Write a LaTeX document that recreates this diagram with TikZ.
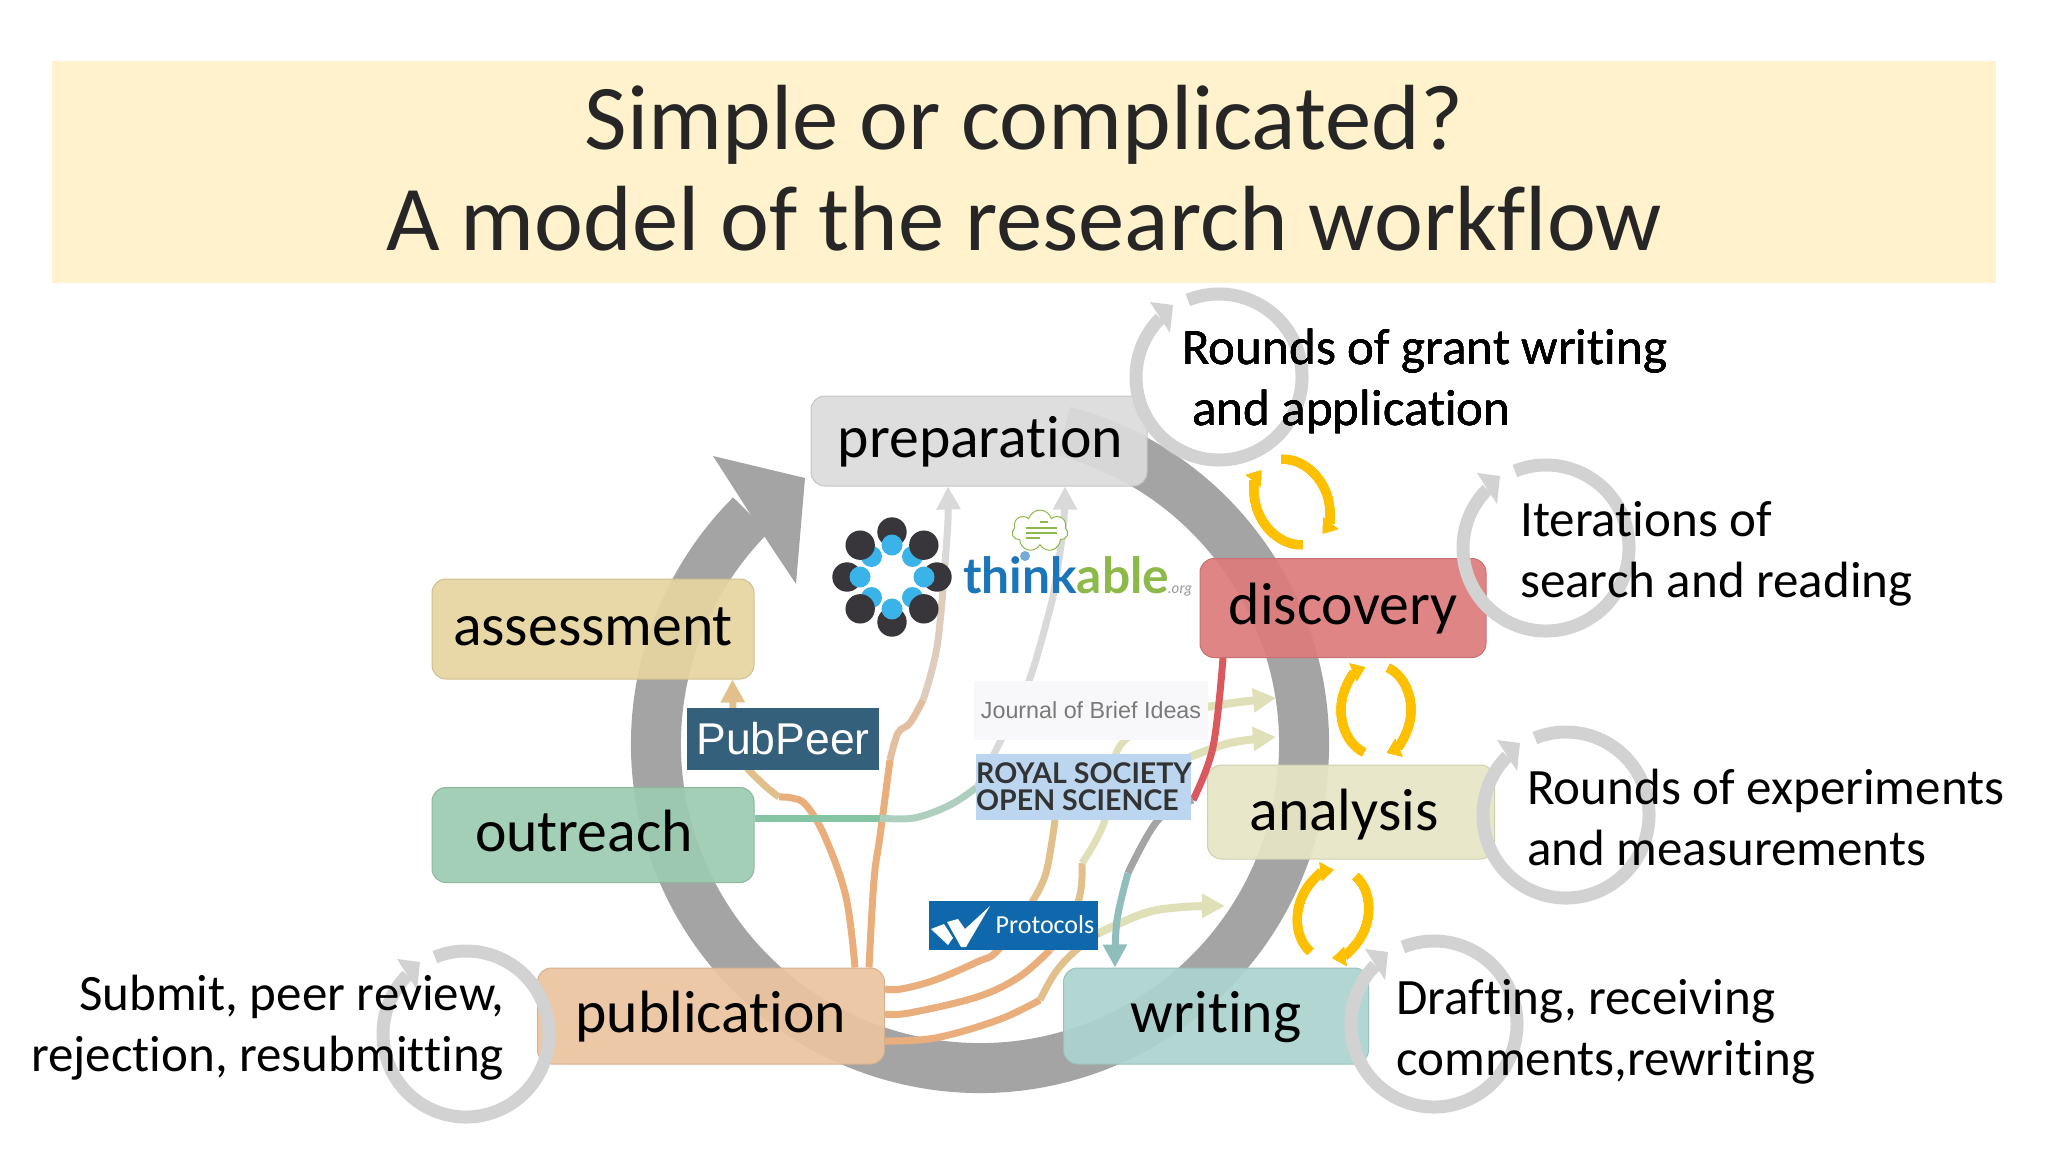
\documentclass[tikz,border=0pt]{standalone}
\usepackage{fontspec}
\setmainfont[Ligatures=NoCommon]{Carlito}
\newfontfamily\arialfont{Liberation Sans}
\newfontfamily\logofont{Lato}
\usetikzlibrary{arrows.meta,shapes.symbols}
\definecolor{titlebar}{HTML}{FFF2CC}
\definecolor{ringgray}{HTML}{A5A4A5}
\definecolor{loopgray}{HTML}{D2D2D2}
\definecolor{loopyellow}{HTML}{FFC000}
\definecolor{linkorange}{HTML}{E9AE7B}
\definecolor{linktan}{HTML}{E2C08C}
\definecolor{linkolive}{HTML}{DFDFB8}
\definecolor{linkgray}{HTML}{D9D9D9}
\definecolor{linkred}{HTML}{D9595F}
\definecolor{linkteal}{HTML}{8FBEBD}
\definecolor{linkgreen}{HTML}{86C5A4}
\definecolor{prepfill}{HTML}{DCDBDC}
\definecolor{discofill}{HTML}{DE7C7C}
\definecolor{analysisfill}{HTML}{E6E5C5}
\definecolor{writefill}{HTML}{ACD4D0}
\definecolor{pubfill}{HTML}{EBC4A0}
\definecolor{outfill}{HTML}{9DCBB1}
\definecolor{assessfill}{HTML}{E6D4A0}
\definecolor{royalfill}{HTML}{BCD6EF}
\definecolor{peerfill}{HTML}{34607C}
\definecolor{protofill}{HTML}{0E68AB}
\definecolor{ideasfill}{HTML}{F8F8FA}
\definecolor{thinkblue}{HTML}{1B75B8}
\definecolor{thinkgreen}{HTML}{8CB94A}
\definecolor{dotblue}{HTML}{3AB3E8}
\definecolor{dotdark}{HTML}{38363A}
\tikzset{
  stagebox/.style={draw=#1!90!black,line width=1,fill=#1,fill opacity=.93,text opacity=1,rounded corners=14,
    inner sep=0,text height=40,text depth=8,font=\fontsize{59.7}{60}\selectfont},
  sidetext/.style={inner sep=0,align=left,font=\fontsize{51}{61}\selectfont},
  linkline/.style={line width=7},
  linkhead/.style={-{Triangle[width=23,length=23]}},
  logobox/.style={inner sep=0}
}
\newcommand{\roundloop}[2]{%
  \begin{scope}[shift={(#1,#2)}]
    \draw[loopgray,line width=13] (0,0) ++(-112:83) arc[start angle=-112,end angle=225,radius=83];
    \fill[loopgray] (-46,-72) -- (-69,-75) -- (-49,-44) -- cycle;
  \end{scope}}
\newcommand{\yellowloop}[3]{%
  \begin{scope}[shift={(#1,#2)},rotate=#3]
    \draw[loopyellow,line width=9,-{Triangle[width=18,length=13]}] (0,0) ++(-70:35 and 45)
      arc[start angle=-70,end angle=72,x radius=35,y radius=45];
    \draw[loopyellow,line width=9,-{Triangle[width=18,length=13]}] (0,0) ++(110:35 and 45)
      arc[start angle=110,end angle=252,x radius=35,y radius=45];
  \end{scope}}
\begin{document}
\begin{tikzpicture}[x=1pt,y=-1pt]
  \useasboundingbox (0,0) rectangle (2048,1152);
  % title
  \node[fill=titlebar,minimum width=1944,minimum height=222,inner sep=0] (titleband) at (1024,172) {};
  \node[inner sep=0,align=center,text=black!85,font=\fontsize{92.6}{101}\selectfont] (titletext) at (1024,168)
    {Simple or complicated?\\A model of the research workflow};
  % big cycle
  \coordinate (ringcentre) at (980,744);
  \draw[ringgray,line width=50] (ringcentre) ++(-75:324) arc[start angle=-75,end angle=225,radius=324];
  \fill[ringgray] (805,478) -- (713,456) -- (740,498) -- (768,542) -- (796,584) -- cycle;
  % stages
  \node[stagebox=prepfill,minimum width=336,minimum height=90] (preparation) at (979,441) {\hspace*{3pt}preparation};
  \node[stagebox=discofill,minimum width=286,minimum height=99] (discovery) at (1343,608) {discovery};
  \node[stagebox=analysisfill,minimum width=287,minimum height=94,text height=44] (analysis) at (1351,812) {analysis\hspace*{14pt}};
  \node[stagebox=writefill,minimum width=305,minimum height=96] (writing) at (1216,1016) {writing};
  \node[stagebox=pubfill,minimum width=347,minimum height=96] (publication) at (711,1016) {publication};
  \node[stagebox=outfill,minimum width=322,minimum height=95] (outreach) at (593,835) {outreach\hspace*{18pt}};
  \node[stagebox=assessfill,minimum width=322,minimum height=100] (assessment) at (593,629) {assessment};
  % publication to assessment
  \draw[linkline,linkorange] plot[smooth,tension=.6] coordinates {([xshift=-30]publication.north east) (846,897) (825,837) (806,805) (792,798) (779,797)};
  \draw[linkline,linktan] plot[smooth,tension=.6] coordinates {(779,797) (762,783) (742,760) (733,725)};
  \draw[linkline,linktan,linkhead] (733,725) -- ([xshift=-22]assessment.south east);
  % publication to preparation
  \draw[linkline,linkorange] plot[smooth,tension=.6] coordinates {([xshift=-16]publication.north east) (874,880) (880,836) (890,760)};
  \draw[linkline,linkorange!60!linkgray] plot[smooth,tension=.6] coordinates {(890,760) (898,733) (910,723) (923,700)};
  \draw[linkline,linkorange!30!linkgray] plot[smooth,tension=.6] coordinates {(923,700) (937,647) (945,563)};
  \draw[linkline,linkgray,linkhead] plot[smooth,tension=.6] coordinates {(945,563) (948,520) ([xshift=-31]preparation.south)};
  % publication to analysis, upper
  \draw[linkline,linkorange] plot[smooth,tension=.6] coordinates {([yshift=27]publication.east) (901,989) (935,980) (977,962) (998,950) (1032,902)};
  \draw[linkline,linktan] plot[smooth,tension=.6] coordinates {(1032,902) (1046,873) (1055,820)};
  \draw[linkline,linkolive] plot[smooth,tension=.6] coordinates {(1055,820) (1075,790) (1190,757)};
  \draw[line width=8,linkolive,linkhead] plot[smooth,tension=.6] coordinates {(1190,757) (1230,743) (1276,737)};
  % publication to analysis, lower
  \draw[linkline,linkorange] plot[smooth,tension=.6] coordinates {([yshift=2]publication.east) (909,1013) (977,997) (1019,977) (1050,950)};
  \draw[linkline,linktan] plot[smooth,tension=.6] coordinates {(1050,950) (1078,902) (1082,863)};
  \draw[linkline,linkolive] plot[smooth,tension=.6] coordinates {(1082,863) (1105,820) (1123,742) (1207,707)};
  \draw[line width=8,linkolive,linkhead] plot[smooth,tension=.6] coordinates {(1207,707) (1240,702) (1276,698)};
  % publication to writing side
  \draw[linkline,linkorange] plot[smooth,tension=.6] coordinates {([yshift=-25]publication.east) (935,1038) (998,1020) (1040,1000)};
  \draw[linkline,linktan] plot[smooth,tension=.6] coordinates {(1040,1000) (1055,973) (1074,952) (1099,933)};
  \draw[line width=8,linkolive,linkhead] plot[smooth,tension=.6] coordinates {(1099,933) (1145,913) (1183,907) (1225,906)};
  % outreach to preparation
  \draw[linkline,linkgreen] ([yshift=17]outreach.east) -- (880,818);
  \draw[linkline,linkgreen!50!linkgray] plot[smooth,tension=.6] coordinates {(880,818) (914,818) (950,805) (977,787)};
  \draw[linkline,linkgray] plot[smooth,tension=.6] coordinates {(977,787) (1000,742) (1030,678) (1053,597)};
  \draw[linkline,linkgray,linkhead] plot[smooth,tension=.6] coordinates {(1053,597) (1063,530) ([xshift=86]preparation.south)};
  % discovery to writing
  \draw[linkline,linkred] plot[smooth,tension=.6] coordinates {([xshift=-120]discovery.south) (1213,747) (1193,800)};
  \draw[linkline,ringgray] plot[smooth,tension=.6] coordinates {(1193,800) (1158,820) (1128,873)};
  \draw[linkline,linkteal,linkhead] plot[smooth,tension=.6] coordinates {(1128,873) (1117,920) ([xshift=-101]writing.north)};
  % logos
  \node[logobox,fill=ideasfill,minimum width=234,minimum height=59,font=\arialfont\fontsize{23.3}{26}\selectfont,text=black!52] (briefideas) at (1091,710) {Journal of Brief Ideas};
  \node[logobox,fill=royalfill,minimum width=215,minimum height=66] (royalbox) at (1083.5,787) {};
  \node[logobox,anchor=west,align=left,text=black!80,font=\logofont\bfseries\fontsize{28.5}{27}\selectfont] (royaltext) at (976,787) {ROYAL SOCIETY\\OPEN SCIENCE};
  \node[logobox,fill=peerfill,minimum width=192,minimum height=62,text=white,font=\arialfont\fontsize{44.5}{46}\selectfont] (pubpeer) at (783,739) {PubPeer};
  \node[logobox,fill=protofill,minimum width=169,minimum height=49] (protocolsbox) at (1013.5,925.5) {};
  \node[logobox,text=white,font=\fontsize{26}{28}\selectfont] (protocolstext) at (1045,925) {Protocols};
  \fill[white] (931,929) -- (944,924) -- (953,938) -- (948,945) -- cycle;
  \fill[white] (947,922) -- (958,919) -- (965,929) -- (990,906) -- (966,947) -- (961,947) -- cycle;
  % ring logo
  \begin{scope}[shift={(892,577)}]
    \foreach \a in {45,135,225,315}
      \fill[dotblue] (\a:29) circle (10.5);
    \foreach \a in {0,45,...,315}
      \fill[dotdark] (\a:45) circle (14.7);
    \foreach \a in {0,90,180,270}
      \fill[dotblue] (\a:32) circle (10.5);
  \end{scope}
  % thinkable logo
  \node[logobox,anchor=base west,font=\logofont\bfseries\fontsize{49.7}{51}\selectfont] (thinkable) at (963,593)
    {\textcolor{thinkblue}{think}\textcolor{thinkgreen}{able}};
  \node[logobox,anchor=base west,text=black!40,font=\logofont\itshape\fontsize{15}{15}\selectfont] (thinkorg) at (1168,593) {.org};
  \node[cloud,cloud puffs=7,draw=thinkgreen,line width=1,fill=white,minimum width=56,minimum height=42,aspect=1.4,inner sep=0] (thinkcloud) at (1040,531) {};
  \foreach \ya/\xa/\xb in {522/1040/1048,528/1026/1057,533/1026/1057,538/1026/1040}
    \draw[thinkgreen,line width=1.5] (\xa,\ya) -- (\xb,\ya);
  \fill[thinkblue!60!white] (1025,556) circle (5);
  % small loops
  \foreach \cx/\cy in {1219/377,1546/548,1566/815,1434/1024,466/1034}
    \roundloop{\cx}{\cy}
  \yellowloop{1292}{502}{30}
  \yellowloop{1376}{710}{0}
  \yellowloop{1333}{914}{-15}
  % side texts
  \node[sidetext,anchor=north west] (granttext) at (1182,329) {Rounds of grant writing\\\hspace*{10pt}and application};
  \node[sidetext,anchor=north west] (searchtext) at (1520,501) {Iterations of\\search and reading};
  \node[sidetext,anchor=north west] (expertext) at (1527,769) {Rounds of experiments\\and measurements};
  \node[sidetext,anchor=north west] (drafttext) at (1396,979) {Drafting, receiving\\comments,rewriting};
  \node[sidetext,anchor=north east,align=right] (submittext) at (504,975) {Submit, peer review,\\rejection, resubmitting};
\end{tikzpicture}
\end{document}
